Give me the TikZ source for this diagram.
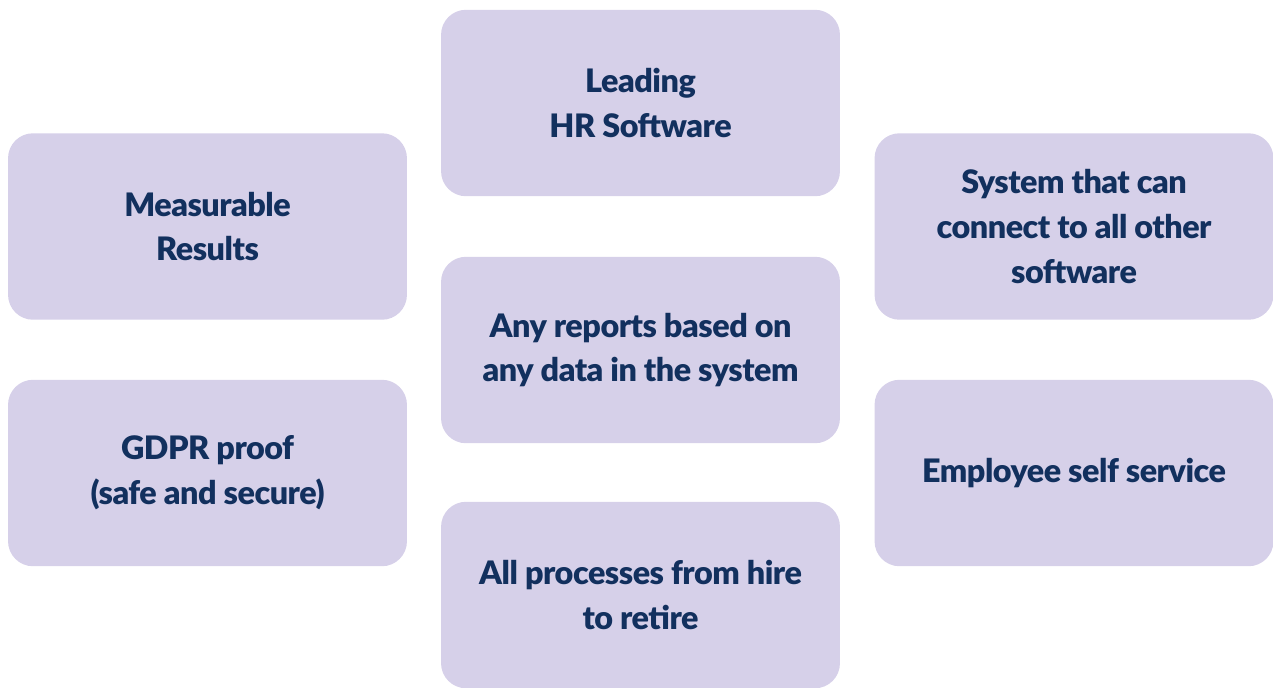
\documentclass[tikz,border=0pt]{standalone}
\usepackage{fontspec}
\setmainfont{Lato}[BoldFont={Lato Black},BoldFeatures={LetterSpace=-1.5}]
\definecolor{boxfill}{HTML}{D6D0E9}
\definecolor{navy}{HTML}{12305E}
\begin{document}
\begin{tikzpicture}
	[x=0.02cm,y=-0.02cm,
	 item/.style={rectangle,rounded corners=0.5cm,fill=boxfill,minimum width=7.98cm,minimum height=3.73cm,align=center,text=navy,font=\fontsize{18.4}{25.5}\selectfont\bfseries}]
    \useasboundingbox (0,0) rectangle (1273,687);
    \node[item] (lead) at (640.5,103) {Leading\\HR Software};
    \node[item] (meas) at (207.5,226.5) {Measurable\\Results};
    \node[item] (sys) at (1074,226.5) {System that can\\connect to all other\\software};
    \node[item] (rep) at (640.5,350) {Any reports based on\\any data in the system};
    \node[item] (gdpr) at (207.5,473) {GDPR proof\\(safe and secure)};
    \node[item] (ess) at (1074,473) {Employee self service};
    \node[item] (proc) at (640.5,595) {All processes from hire\\to retire};

\end{tikzpicture}
\end{document}
